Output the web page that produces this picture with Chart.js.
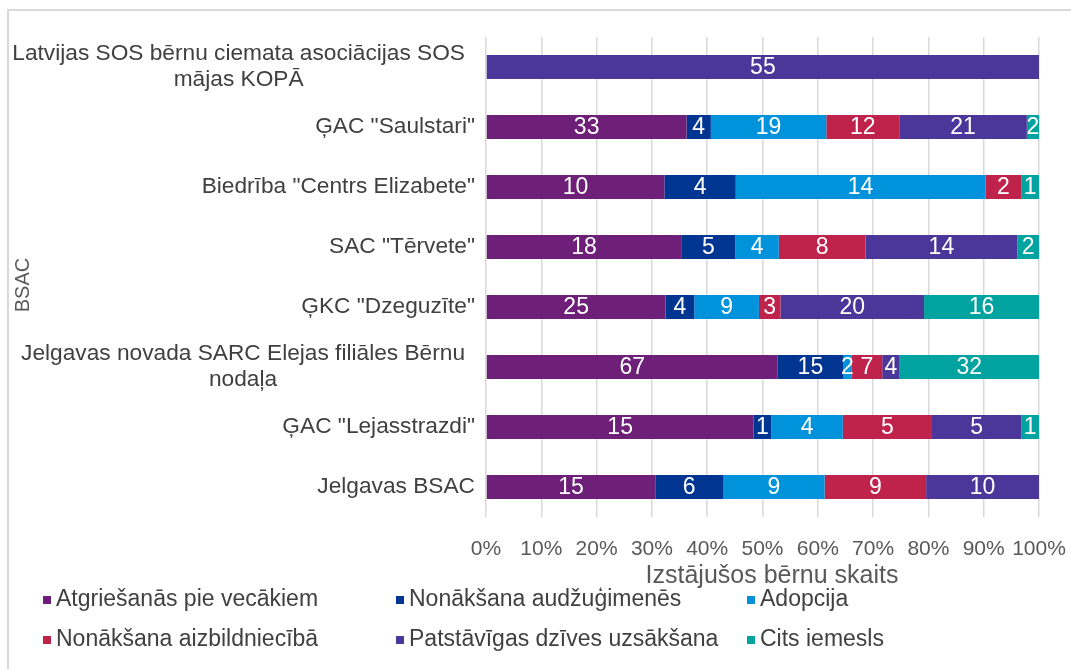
<!DOCTYPE html>
<html>
<head>
<meta charset="utf-8">
<script src="https://cdn.jsdelivr.net/npm/chart.js@4/dist/chart.umd.min.js"></script>
<style>
html, body { margin: 0; padding: 0; background: #fff; }
#wrap { position: relative; width: 1071px; height: 669px; overflow: hidden; }
#frame { position: absolute; left: 7px; top: 9px; right: 0; bottom: 0;
  border-top: 2px solid #d9d9d9; border-left: 2px solid #d9d9d9; }
canvas { position: absolute; left: 0; top: 0; }
</style>
</head>
<body>
<div id="wrap"><div id="frame"></div><canvas id="myChart" width="1071" height="669"></canvas></div>
<script>
// categories, top to bottom
var categories = [
    ['Latvijas SOS bērnu ciemata asociācijas SOS', 'mājas KOPĀ'],
    'ĢAC "Saulstari"',
    'Biedrība "Centrs Elizabete"',
    'SAC "Tērvete"',
    'ĢKC "Dzeguzīte"',
    ['Jelgavas novada SARC Elejas filiāles Bērnu', 'nodaļa'],
    'ĢAC "Lejasstrazdi"',
    'Jelgavas BSAC'
];

var seriesNames = [
    'Atgriešanās pie vecākiem',
    'Nonākšana audžuģimenēs',
    'Adopcija',
    'Nonākšana aizbildniecībā',
    'Patstāvīgas dzīves uzsākšana',
    'Cits iemesls'
];
var seriesColors = ['#6e1f78', '#003591', '#0092da', '#bf224b', '#4a3799', '#00a3a0'];

// number of children per reason
var atgriesanas    = [0, 33, 10, 18, 25, 67, 15, 15];
var audzugimenes   = [0, 4, 4, 5, 4, 15, 1, 6];
var adopcija       = [0, 19, 14, 4, 9, 2, 4, 9];
var aizbildnieciba = [0, 12, 2, 8, 3, 7, 5, 9];
var patstavigas    = [55, 21, 0, 14, 20, 4, 5, 10];
var cits           = [0, 2, 1, 2, 16, 32, 1, 0];

var tickLabels = ['0%', '10%', '20%', '30%', '40%', '50%', '60%', '70%', '80%', '90%', '100%'];

var xTitle = 'Izstājušos bērnu skaits';
var yTitle = 'BSAC';

var series = [atgriesanas, audzugimenes, adopcija, aizbildnieciba, patstavigas, cits];
var totals = categories.map(function (c, i) {
    return series.reduce(function (s, arr) { return s + arr[i]; }, 0);
});

var datasets = series.map(function (arr, k) {
    return {
        label: seriesNames[k],
        counts: arr,
        data: arr.map(function (v, i) { return v / totals[i] * 100; }),
        backgroundColor: seriesColors[k],
        borderWidth: 0,
        barPercentage: 0.4,
        categoryPercentage: 1
    };
});

var FONT = '"Liberation Sans", Arial, sans-serif';

// y labels + axis titles drawn by hand (Excel style: block right aligned, lines centered)
var axisTextPlugin = {
    id: 'axisText',
    afterDraw: function (chart) {
        var ctx = chart.ctx;
        var ys = chart.scales.y;
        ctx.save();
        ctx.font = '22.7px ' + FONT;
        ctx.fillStyle = '#404040';
        ctx.textBaseline = 'middle';
        ctx.textAlign = 'center';
        var lh = 26;
        categories.forEach(function (lab, i) {
            var lines = Array.isArray(lab) ? lab : [lab];
            var right = lines.length > 1 ? 465 : 475;
            var y0 = ys.getPixelForValue(i) - (lines.length - 1) * lh / 2;
            var w = Math.max.apply(null, lines.map(function (l) { return ctx.measureText(l).width; }));
            var cx = right - w / 2;
            lines.forEach(function (l, j) { ctx.fillText(l, cx, y0 + j * lh); });
        });

        ctx.fillStyle = '#595959';
        ctx.font = '25px ' + FONT;
        ctx.fillText(xTitle, 772, 576);

        ctx.font = '20px ' + FONT;
        ctx.translate(23, 285);
        ctx.rotate(-Math.PI / 2);
        ctx.fillText(yTitle, 0, 0);
        ctx.restore();
    }
};

var valueLabelsPlugin = {
    id: 'valueLabels',
    afterDatasetsDraw: function (chart) {
        var ctx = chart.ctx;
        ctx.save();
        ctx.font = '23px ' + FONT;
        ctx.fillStyle = '#ffffff';
        ctx.textAlign = 'center';
        ctx.textBaseline = 'middle';
        chart.data.datasets.forEach(function (ds, k) {
            chart.getDatasetMeta(k).data.forEach(function (bar, i) {
                var v = ds.counts[i];
                if (!v) return;
                var p = bar.getCenterPoint();
                ctx.fillText(String(v), p.x, p.y + 1);
            });
        });
        ctx.restore();
    }
};

var legendPlugin = {
    id: 'gridLegend',
    afterDraw: function (chart) {
        var ctx = chart.ctx;
        var cols = [43, 396, 747], rows = [600, 640];
        ctx.save();
        ctx.font = '23px ' + FONT;
        ctx.textAlign = 'left';
        ctx.textBaseline = 'middle';
        seriesNames.forEach(function (name, k) {
            var x = cols[k % 3], y = rows[Math.floor(k / 3)];
            ctx.fillStyle = seriesColors[k];
            ctx.fillRect(x, y - 4, 8, 8);
            ctx.fillStyle = '#404040';
            ctx.fillText(name, x + 13, y);
        });
        ctx.restore();
    }
};

var ctx = document.getElementById('myChart').getContext('2d');
var myChart = new Chart(ctx, {
    type: 'bar',
    data: { labels: categories, datasets: datasets },
    plugins: [axisTextPlugin, valueLabelsPlugin, legendPlugin],
    options: {
        indexAxis: 'y',
        responsive: false,
        animation: false,
        layout: { padding: { top: 37, right: 32, bottom: 72, left: 0 } },
        plugins: {
            legend: { display: false },
            tooltip: { enabled: false }
        },
        scales: {
            x: {
                stacked: true,
                min: 0,
                max: 100,
                ticks: {
                    stepSize: 10,
                    padding: 20,
                    autoSkip: false,
                    maxRotation: 0,
                    minRotation: 0,
                    color: '#595959',
                    font: { family: FONT, size: 21 },
                    callback: function (v, i) { return tickLabels[i]; }
                },
                grid: { color: '#d9d9d9', lineWidth: 1.5, drawTicks: false },
                border: { display: false },
                afterFit: function (scale) {
                    scale.height = 80;
                    scale.paddingLeft = 0;
                    scale.paddingRight = 0;
                }
            },
            y: {
                stacked: true,
                ticks: { display: false },
                grid: { display: false },
                border: { display: false },
                afterFit: function (scale) { scale.width = 486; }
            }
        }
    }
});
</script>
</body>
</html>
